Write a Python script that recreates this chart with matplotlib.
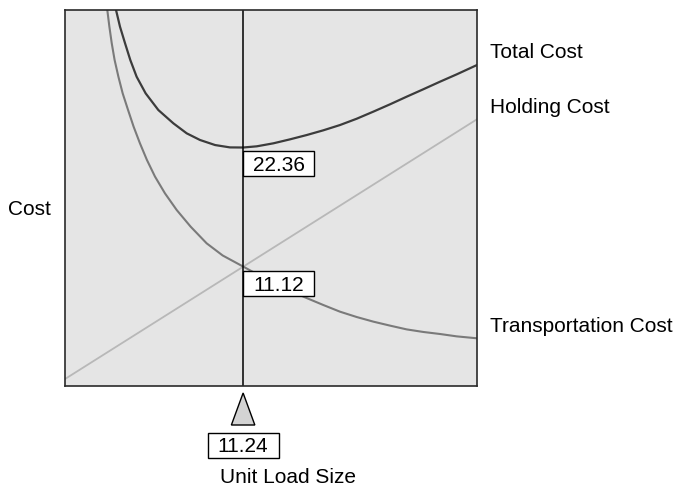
import matplotlib
matplotlib.use("Agg")
import matplotlib.pyplot as plt
from matplotlib.patches import Rectangle, Polygon
from matplotlib.transforms import IdentityTransform, blended_transform_factory

plt.rcParams["font.family"] = ["Liberation Sans", "DejaVu Sans"]

# values
x_transport = [2.67, 2.80, 2.95, 3.13, 3.37, 3.64, 3.98, 4.33, 4.73, 5.17, 5.68, 6.31, 7.05, 7.93,
               8.94, 9.95, 11.24, 12.94, 14.07, 15.15, 16.30, 17.35, 18.41, 19.46, 20.51, 21.56,
               22.61, 23.67, 24.72, 26.0]
transport_cost = [35.0, 33.45, 31.90, 30.35, 28.79, 27.24, 25.69, 24.14, 22.59, 21.04, 19.49, 17.93,
                  16.38, 14.83, 13.28, 12.15, 11.12, 9.75, 8.95, 8.25, 7.54, 6.92, 6.42, 5.99, 5.62,
                  5.27, 5.03, 4.84, 4.62, 4.44]

x_total = [3.22, 3.47, 3.79, 4.12, 4.52, 5.09, 5.89, 6.84, 7.68, 8.52, 9.47, 10.41, 11.24, 12.10,
           13.15, 14.20, 15.25, 16.30, 17.35, 18.41, 19.46, 20.51, 21.56, 22.61, 23.67, 24.72, 26.0]
total_cost = [35.0, 33.45, 31.90, 30.35, 28.79, 27.24, 25.69, 24.45, 23.52, 22.90, 22.43, 22.21,
              22.2, 22.31, 22.59, 22.96, 23.36, 23.80, 24.29, 24.88, 25.54, 26.22, 26.93, 27.62,
              28.33, 29.01, 29.88]

x_holding = [0.0, 26.0]
holding_cost = [0.65, 24.83]

opt_size = 11.24
opt_total = "22.36"
opt_cost = "11.12"
opt_total_y = 22.2
opt_cost_y = 11.12

fig = plt.figure(figsize=(6.76, 4.86), dpi=100)
ax = fig.add_axes([65 / 676, 1 - 386 / 486, 412 / 676, 376 / 486])
ax.set_facecolor("#e5e5e5")
ax.set_xlim(0, 26)
ax.set_ylim(0, 35)
ax.set_xticks([])
ax.set_yticks([])
for s in ax.spines.values():
    s.set_color("#2a2a2a")
    s.set_linewidth(1.2)

ax.plot(x_holding, holding_cost, color="#b8b8b8", lw=1.3)
ax.plot(x_transport, transport_cost, color="#7a7a7a", lw=1.5, solid_joinstyle="round")
ax.plot(x_total, total_cost, color="#3c3c3c", lw=1.6, solid_joinstyle="round")
ax.axvline(opt_size, color="black", lw=1.1)

ident = IdentityTransform()


def value_box(x, y, text, gap):
    px, py = ax.transData.transform((x, y))
    top = py - gap
    fig.add_artist(Rectangle((px, top - 25), 71, 25, transform=ident,
                             fc="white", ec="black", lw=1.0))
    fig.text(px + 35.5, top - 20, text, transform=ident, ha="center",
             va="baseline", fontsize=15)


value_box(opt_size, opt_total_y, opt_total, 3)
value_box(opt_size, opt_cost_y, opt_cost, 4)

# marker under the axis
tr = blended_transform_factory(ax.transData, fig.transFigure)
ax.add_patch(Polygon([[opt_size, 1 - 393 / 486], [opt_size - 0.74, 1 - 425 / 486],
                      [opt_size + 0.74, 1 - 425 / 486]], closed=True, transform=tr,
                     fc="#d3d3d3", ec="black", lw=1.0, clip_on=False))
px, py = ax.transData.transform((opt_size, 0))
fig.add_artist(Rectangle((px - 35.5, 486 - 458.3), 71, 25.6, transform=ident,
                         fc="white", ec="black", lw=1.0))
fig.text(px, 486 - 452.3, str(opt_size), transform=ident, ha="center",
         va="baseline", fontsize=15)

fig.text(220 / 676, 1 - 483 / 486, "Unit Load Size", fontsize=15, va="baseline")
fig.text(8 / 676, 1 - 215 / 486, "Cost", fontsize=15, va="baseline")
fig.text(490 / 676, 1 - 57.7 / 486, "Total Cost", fontsize=15, va="baseline")
fig.text(490 / 676, 1 - 112.7 / 486, "Holding Cost", fontsize=15, va="baseline")
fig.text(490 / 676, 1 - 331.7 / 486, "Transportation Cost", fontsize=15, va="baseline")

fig.savefig("out.png", dpi=100)
